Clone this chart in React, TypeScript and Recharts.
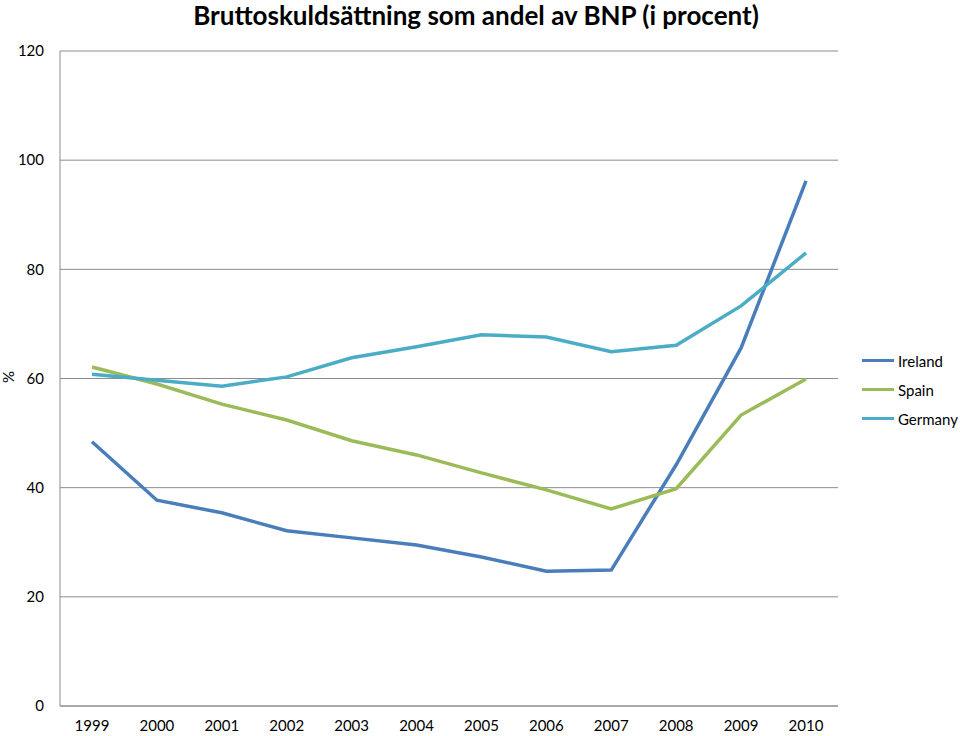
import React from 'react';
import { LineChart, Line, XAxis, YAxis, CartesianGrid } from 'recharts';

const years = ['1999', '2000', '2001', '2002', '2003', '2004', '2005', '2006', '2007', '2008', '2009', '2010'];
const ireland = [48.4, 37.7, 35.4, 32.1, 30.8, 29.5, 27.3, 24.7, 24.9, 44.2, 65.6, 96.2];
const spain = [62.1, 59.0, 55.3, 52.4, 48.6, 46.0, 42.7, 39.6, 36.1, 39.8, 53.3, 59.9];
const germany = [60.8, 59.7, 58.6, 60.3, 63.8, 65.8, 68.0, 67.6, 64.9, 66.1, 73.3, 83.0];
const yTicks = [0, 20, 40, 60, 80, 100, 120];

const series = [
    { key: 'Ireland', color: '#4A7EBB' },
    { key: 'Spain', color: '#9BBB59' },
    { key: 'Germany', color: '#4BACC6' },
];

const data = years.map((y, i) => ({ year: y, Ireland: ireland[i], Spain: spain[i], Germany: germany[i] }));

const FONT = 'Lato, "Open Sans", sans-serif';

// legend sits outside the chart so it doesn't eat plot width
const LegendBox = () => (
    <div style={{ position: 'absolute', left: 862, top: 346, fontFamily: FONT, fontSize: 15, color: '#000' }}>
        {series.map(s => (
            <div key={s.key} style={{ display: 'flex', alignItems: 'center', height: 29 }}>
                <span style={{ display: 'inline-block', width: 32, height: 3, background: s.color, marginRight: 4 }} />
                <span>{s.key}</span>
            </div>
        ))}
    </div>
);

export default function App() {
    return (
        <div style={{ position: 'absolute', left: 0, top: 0, width: 960, height: 736, background: '#fff' }}>
            <LineChart width={960} height={736} data={data} margin={{ top: 51, right: 122, bottom: 0, left: 10 }}>
                <CartesianGrid vertical={false} stroke="#8c8c8c" strokeWidth={1} />
                <XAxis dataKey="year" height={30} tickLine={false} tickSize={0} tickMargin={14} padding={{ left: 32, right: 32 }}
                    axisLine={{ stroke: '#8c8c8c' }} tick={{ fill: '#000', fontSize: 15, fontFamily: FONT }} interval={0} />
                <YAxis width={50} domain={[0, 120]} ticks={yTicks} tickLine={false} tickSize={0} tickMargin={16}
                    axisLine={{ stroke: '#8c8c8c' }} tick={{ fill: '#000', fontSize: 15, fontFamily: FONT }} />
                {series.map(s => (
                    <Line key={s.key} type="linear" dataKey={s.key} stroke={s.color} strokeWidth={3.5}
                        dot={false} isAnimationActive={false} />
                ))}
            </LineChart>
            <div style={{ position: 'absolute', left: 0, top: 0, width: 952, textAlign: 'center', fontFamily: FONT, fontWeight: 'bold', fontSize: 26, lineHeight: '30px', color: '#000' }}>
                Bruttoskuldsättning som andel av BNP (i procent)
            </div>
            <div style={{ position: 'absolute', left: 1, top: 368, width: 16, textAlign: 'center', transform: 'rotate(90deg)', fontFamily: FONT, fontSize: 15, lineHeight: '18px' }}>%</div>
            <LegendBox />
        </div>
    );
}
